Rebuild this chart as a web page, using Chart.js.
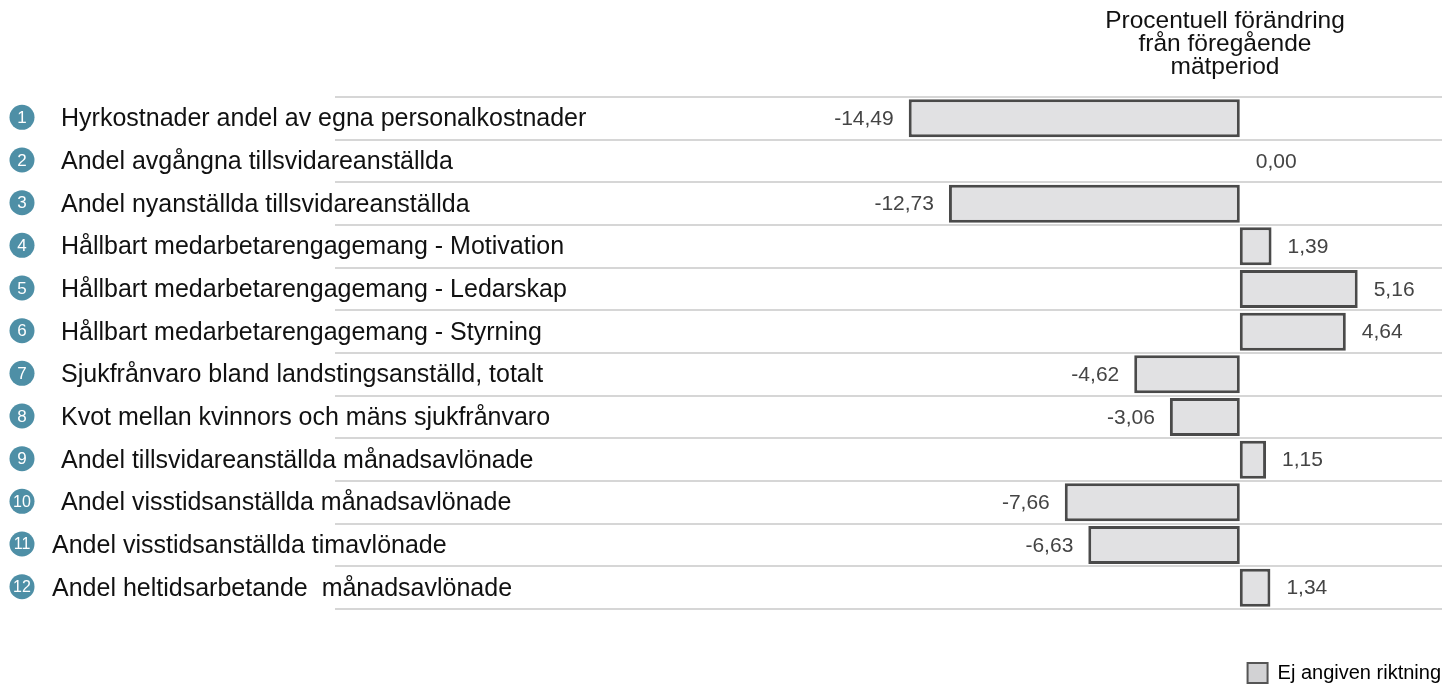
<!DOCTYPE html>
<html lang="sv">
<head>
<meta charset="utf-8">
<title>Procentuell förändring</title>
<script src="https://cdn.jsdelivr.net/npm/chart.js@4"></script>
<style>
    html, body { margin: 0; padding: 0; background: #ffffff; }
    #graf { display: block; }
</style>
</head>
<body>
<canvas id="graf" width="1456" height="687"></canvas>
<script>
// Indikatorer och förändring i procent
const nummer = [1, 2, 3, 4, 5, 6, 7, 8, 9, 10, 11, 12];
const indikatorer = [
    "Hyrkostnader andel av egna personalkostnader",
    "Andel avgångna tillsvidareanställda",
    "Andel nyanställda tillsvidareanställda",
    "Hållbart medarbetarengagemang - Motivation",
    "Hållbart medarbetarengagemang - Ledarskap",
    "Hållbart medarbetarengagemang - Styrning",
    "Sjukfrånvaro bland landstingsanställd, totalt",
    "Kvot mellan kvinnors och mäns sjukfrånvaro",
    "Andel tillsvidareanställda månadsavlönade",
    "Andel visstidsanställda månadsavlönade",
    "Andel visstidsanställda timavlönade",
    "Andel heltidsarbetande  månadsavlönade"
];
const forandring = [-14.49, 0.00, -12.73, 1.39, 5.16, 4.64, -4.62, -3.06, 1.15, -7.66, -6.63, 1.34];
const rubrik = ["Procentuell förändring", "från föregående", "mätperiod"];
const serieNamn = "Ej angiven riktning";

const FONT = "'Liberation Sans', Arial, sans-serif";
const cirkelFarg = "#4e8fa6";

const fmt = v => v.toFixed(2).replace(".", ",");

// etiketter med nummerbricka till vänster
const etikettPlugin = {
    id: "etiketter",
    afterDraw(chart) {
        const ctx = chart.ctx;
        const y = chart.scales.y;
        ctx.save();
        indikatorer.forEach((txt, i) => {
            const py = y.getPixelForValue(i);
            ctx.beginPath();
            ctx.arc(22, py - 1, 12.5, 0, Math.PI * 2);
            ctx.fillStyle = cirkelFarg;
            ctx.fill();
            ctx.fillStyle = "#ffffff";
            ctx.font = (nummer[i] > 9 ? "16px " : "17px ") + FONT;
            ctx.textAlign = "center";
            ctx.textBaseline = "middle";
            ctx.fillText(String(nummer[i]), 22, py);

            ctx.fillStyle = "#111111";
            ctx.font = "25px " + FONT;
            ctx.textAlign = "left";
            ctx.fillText(txt, nummer[i] > 10 ? 52 : 61, py + 1);
        });

        // rubrik över staplarna
        ctx.fillStyle = "#111111";
        ctx.font = "24.5px " + FONT;
        ctx.textAlign = "center";
        ctx.textBaseline = "middle";
        rubrik.forEach((r, i) => ctx.fillText(r, 1225, 21 + i * 23));
        ctx.restore();
    }
};

// värden bredvid staplarna
const vardePlugin = {
    id: "varden",
    afterDatasetsDraw(chart) {
        const ctx = chart.ctx;
        const meta = chart.getDatasetMeta(0);
        ctx.save();
        ctx.font = "21px " + FONT;
        ctx.fillStyle = "#444444";
        ctx.textBaseline = "middle";
        meta.data.forEach((bar, i) => {
            const v = forandring[i];
            if (v < 0) {
                ctx.textAlign = "right";
                ctx.fillText(fmt(v), bar.x - 15, bar.y + 1);
            } else {
                ctx.textAlign = "left";
                ctx.fillText(fmt(v), bar.x + 16, bar.y + 1);
            }
        });
        ctx.restore();
    }
};

new Chart(document.getElementById("graf"), {
    type: "bar",
    data: {
        labels: indikatorer,
        datasets: [{
            label: serieNamn,
            data: forandring,
            backgroundColor: "#e1e1e3",
            borderColor: "#4a4a4a",
            borderWidth: ctx => (ctx.raw === 0 ? 0 : 3),
            borderSkipped: false,
            barPercentage: 0.89,
            categoryPercentage: 1.0
        }]
    },
    options: {
        indexAxis: "y",
        responsive: false,
        animation: false,
        devicePixelRatio: 1,
        layout: { padding: { left: 335, right: 14, top: 97, bottom: -6 } },
        scales: {
            x: {
                display: true,
                min: -39.6,
                max: 8.85,
                grid: { display: false },
                border: { display: false },
                ticks: { display: false },
                // tomt utrymme mellan staplarna och förklaringen
                afterFit: scale => { scale.height = 53; }
            },
            y: {
                display: true,
                grid: {
                    offset: true,
                    color: "#d6d6d6",
                    lineWidth: 2,
                    drawTicks: false
                },
                border: { display: false },
                ticks: { display: false }
            }
        },
        plugins: {
            legend: {
                position: "bottom",
                align: "end",
                labels: {
                    boxWidth: 20,
                    boxHeight: 20,
                    padding: 1,
                    color: "#333333",
                    font: { family: FONT, size: 20 },
                    generateLabels: () => [{
                        text: serieNamn,
                        fillStyle: "#d2d2d4",
                        strokeStyle: "#555555",
                        lineWidth: 2,
                        datasetIndex: 0
                    }]
                }
            },
            tooltip: { enabled: false }
        }
    },
    plugins: [etikettPlugin, vardePlugin]
});
</script>
</body>
</html>
